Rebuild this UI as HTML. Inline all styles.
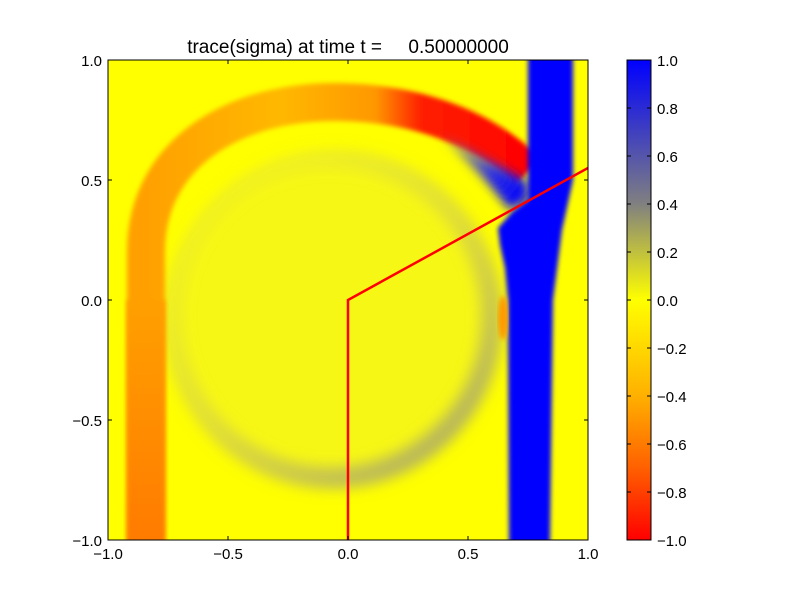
<!DOCTYPE html>
<html><head><style>
html,body{margin:0;padding:0;background:#fff;}
svg text{font-family:"Liberation Sans",sans-serif;font-size:15px;fill:#000;}
</style></head><body>
<svg width="800" height="600" xmlns="http://www.w3.org/2000/svg">
<defs>
<clipPath id="c"><rect x="108" y="60" width="480" height="480"/></clipPath>
<linearGradient id="arc" gradientUnits="userSpaceOnUse" x1="146" y1="0" x2="528" y2="0">
<stop offset="0" stop-color="#ffa000"/>
<stop offset="0.35" stop-color="#ffb800"/>
<stop offset="0.6" stop-color="#ff9800"/>
<stop offset="0.72" stop-color="#ff2000"/>
<stop offset="1" stop-color="#ff0000"/>
</linearGradient>
<linearGradient id="strip" x1="0" y1="0" x2="0" y2="1">
<stop offset="0" stop-color="#ffa000"/>
<stop offset="1" stop-color="#ff7a00"/>
</linearGradient>
<linearGradient id="ring" gradientUnits="userSpaceOnUse" x1="200" y1="170" x2="460" y2="470">
<stop offset="0" stop-color="#c8c870" stop-opacity="0.05"/>
<stop offset="0.5" stop-color="#b8b070" stop-opacity="0.35"/>
<stop offset="1" stop-color="#a0a070" stop-opacity="0.85"/>
</linearGradient>
<linearGradient id="wedge" gradientUnits="userSpaceOnUse" x1="440" y1="130" x2="528" y2="200">
<stop offset="0" stop-color="#8080a0" stop-opacity="0.3"/>
<stop offset="0.6" stop-color="#3030e0"/>
<stop offset="1" stop-color="#0000ff"/>
</linearGradient>
<linearGradient id="cb" x1="0" y1="0" x2="0" y2="1">
<stop offset="0" stop-color="#0000ff"/>
<stop offset="0.3" stop-color="#808080"/>
<stop offset="0.5" stop-color="#ffff00"/>
<stop offset="0.7" stop-color="#ffb000"/>
<stop offset="0.85" stop-color="#ff6000"/>
<stop offset="1" stop-color="#ff0000"/>
</linearGradient>
<filter id="bl"><feGaussianBlur stdDeviation="2.5"/></filter>
<filter id="bl2"><feGaussianBlur stdDeviation="5"/></filter>
<filter id="bl3"><feGaussianBlur stdDeviation="7"/></filter>
</defs>
<g clip-path="url(#c)">
<rect x="108" y="60" width="480" height="480" fill="#ffff00"/>
<circle cx="332" cy="318" r="168" fill="#e8e840" fill-opacity="0.35" filter="url(#bl2)"/>
<circle cx="332" cy="318" r="160" fill="none" stroke="url(#ring)" stroke-width="22" filter="url(#bl3)"/>
<path d="M146,545 L146,252 C146,150 240,100 340,102 C430,104 490,135 528,172" fill="none" stroke="url(#arc)" stroke-width="38" filter="url(#bl)"/>
<rect x="127" y="300" width="38" height="245" fill="url(#strip)" filter="url(#bl)"/>
<polygon points="440,135 470,150 528,182 528,200 510,210 485,180" fill="url(#wedge)" filter="url(#bl2)"/>
<polygon points="528,55 573,55 573,180 562,230 553,300 550,545 509,545 508,300 505,268 500,245 498,228 512,212 528,200" fill="#0000ff" filter="url(#bl)"/>
<ellipse cx="503" cy="318" rx="5" ry="22" fill="#ff9a00" filter="url(#bl)"/>
<polyline points="348,540 348,300 588,168" fill="none" stroke="#ff0000" stroke-width="2.5"/>
</g>
<rect x="108" y="60" width="480" height="480" fill="none" stroke="#000" stroke-width="1"/>
<g stroke="#000" stroke-width="1">
<path d="M228,60v4M348,60v4M468,60v4M228,540v-4M348,540v-4M468,540v-4M108,180h4M108,300h4M108,420h4M588,180h-4M588,300h-4M588,420h-4"/>
</g>
<g text-anchor="middle" style="font-size:16px">
<text x="108" y="559">−1.0</text><text x="228" y="559">−0.5</text><text x="348" y="559">0.0</text><text x="468" y="559">0.5</text><text x="588" y="559">1.0</text>
</g>
<g text-anchor="end" style="font-size:16px">
<text x="102" y="66">1.0</text><text x="102" y="186">0.5</text><text x="102" y="306">0.0</text><text x="102" y="426">−0.5</text><text x="102" y="546">−1.0</text>
</g>
<text x="348" y="53" text-anchor="middle" style="font-size:19px;white-space:pre" xml:space="preserve">trace(sigma) at time t =     0.50000000</text>
<rect x="627" y="60" width="24" height="480" fill="url(#cb)" stroke="#000" stroke-width="1"/>
<g stroke="#000"><path d="M627,108h4M627,156h4M627,204h4M627,252h4M627,300h4M627,348h4M627,396h4M627,444h4M627,492h4M651,108h-4M651,156h-4M651,204h-4M651,252h-4M651,300h-4M651,348h-4M651,396h-4M651,444h-4M651,492h-4"/></g>
<g style="font-size:16px">
<text x="657" y="66">1.0</text><text x="657" y="114">0.8</text><text x="657" y="162">0.6</text><text x="657" y="210">0.4</text><text x="657" y="258">0.2</text><text x="657" y="306">0.0</text><text x="657" y="354">−0.2</text><text x="657" y="402">−0.4</text><text x="657" y="450">−0.6</text><text x="657" y="498">−0.8</text><text x="657" y="546">−1.0</text>
</g>
</svg>
</body></html>
